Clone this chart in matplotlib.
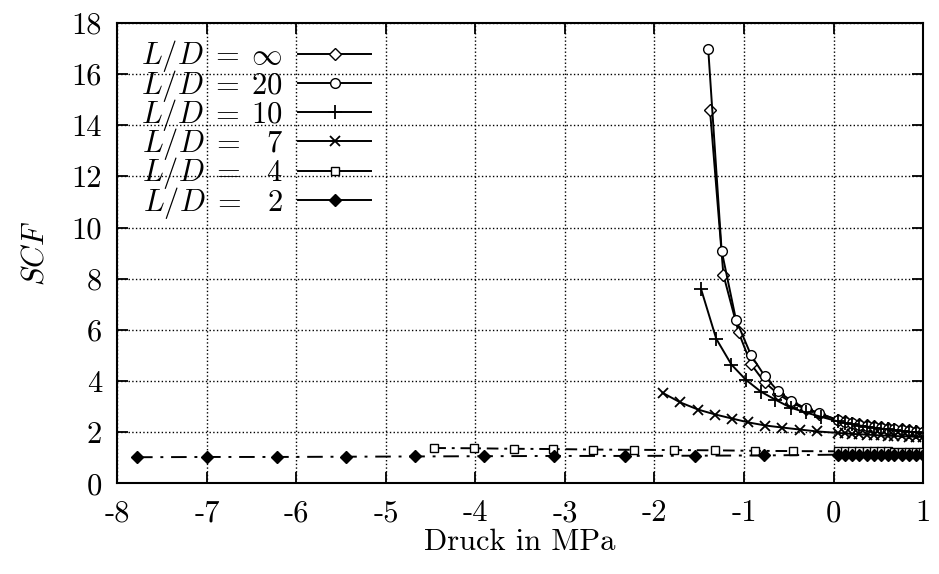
import matplotlib
matplotlib.use("Agg")
import matplotlib.pyplot as plt
from matplotlib.lines import Line2D

plt.rcParams['mathtext.fontset'] = 'cm'
plt.rcParams['font.family'] = ['cmr10', 'DejaVu Serif']
plt.rcParams['axes.unicode_minus'] = False
plt.rcParams['axes.formatter.use_mathtext'] = True

# ---- data ----
x_dense = [0.05, 0.13, 0.21, 0.29, 0.37, 0.45, 0.53, 0.61, 0.68, 0.76, 0.84, 0.92, 1.0]

x_inf = [-1.38, -1.23, -1.06, -0.92, -0.77, -0.62, -0.47, -0.31, -0.16] + x_dense
y_inf = [14.6, 8.15, 5.9, 4.65, 3.95, 3.5, 3.15, 2.9, 2.72,
         2.48, 2.42, 2.37, 2.32, 2.28, 2.24, 2.2, 2.17, 2.14, 2.11, 2.08, 2.05, 2.02]

x_20 = [-1.40, -1.25, -1.09, -0.92, -0.77, -0.62, -0.47, -0.31, -0.16] + x_dense
y_20 = [17.0, 9.1, 6.4, 5.0, 4.2, 3.6, 3.22, 2.93, 2.75,
        2.46, 2.4, 2.34, 2.29, 2.25, 2.21, 2.17, 2.14, 2.11, 2.08, 2.05, 2.02, 1.99]

x_10 = [-1.48, -1.31, -1.14, -0.98, -0.81, -0.65, -0.48, -0.31, -0.14] + x_dense
y_10 = [7.6, 5.65, 4.64, 4.05, 3.58, 3.27, 2.96, 2.77, 2.6,
        2.42, 2.36, 2.31, 2.26, 2.22, 2.18, 2.14, 2.11, 2.08, 2.05, 2.02, 1.99, 1.96]

x_7 = [-1.91, -1.71, -1.51, -1.32, -1.13, -0.95, -0.76, -0.57, -0.37, -0.19] + x_dense
y_7 = [3.54, 3.16, 2.88, 2.69, 2.53, 2.38, 2.26, 2.18, 2.1, 2.03,
       1.97, 1.95, 1.93, 1.92, 1.9, 1.89, 1.87, 1.86, 1.85, 1.84, 1.83, 1.82, 1.81]

x_4 = [-4.46, -4.02, -3.57, -3.13, -2.69, -2.23, -1.78, -1.32, -0.88, -0.45] + x_dense
y_4 = [1.38, 1.37, 1.35, 1.34, 1.32, 1.31, 1.3, 1.29, 1.27, 1.26,
       1.25, 1.25, 1.25, 1.25, 1.25, 1.25, 1.25, 1.25, 1.24, 1.24, 1.24, 1.24, 1.24]

x_2 = [-7.78, -7.0, -6.22, -5.45, -4.68, -3.9, -3.12, -2.33, -1.55, -0.78] + x_dense
y_2 = [1.02, 1.03, 1.03, 1.04, 1.05, 1.06, 1.07, 1.07, 1.08, 1.09,
       1.12, 1.12, 1.12, 1.12, 1.12, 1.12, 1.12, 1.12, 1.12, 1.12, 1.12, 1.12, 1.12]

labels = [r'$L/D\;=\;\infty$', r'$L/D\;=\;20$', r'$L/D\;=\;10$',
          r'$L/D\;=\;\enspace 7$', r'$L/D\;=\;\enspace 4$', r'$L/D\;=\;\enspace 2$']

xticks = [-8, -7, -6, -5, -4, -3, -2, -1, 0, 1]
xticklabels = ['-8', '-7', '-6', '-5', '-4', '-3', '-2', '-1', '0', '1']
yticks = [0, 2, 4, 6, 8, 10, 12, 14, 16, 18]
yticklabels = ['0', '2', '4', '6', '8', '10', '12', '14', '16', '18']

# ---- plot ----
FS = 22
fig = plt.figure(figsize=(9.39, 5.74), dpi=100)
ax = fig.add_axes([0.125, 0.158, 0.858, 0.802])

lw = 1.4
styles = [
    dict(marker='D', ms=6, mfc='white', mec='black', mew=1.0, ls='-'),
    dict(marker='o', ms=7, mfc='white', mec='black', mew=1.0, ls='-'),
    dict(marker='+', ms=10, mec='black', mew=1.3, ls='-'),
    dict(marker='x', ms=7, mec='black', mew=1.3, ls='-'),
    dict(marker='s', ms=6, mfc='white', mec='black', mew=1.0, ls=(0, (6, 3, 1.5, 3))),
    dict(marker='D', ms=6, mfc='black', mec='black', mew=1.0, ls=(0, (8, 4, 1.5, 4))),
]
series = [(x_inf, y_inf), (x_20, y_20), (x_10, y_10), (x_7, y_7), (x_4, y_4), (x_2, y_2)]
for (xs, ys), st in zip(series, styles):
    ax.plot(xs, ys, color='black', lw=lw, zorder=3, **st)

ax.set_xlim(-8, 1)
ax.set_ylim(0, 18)
ax.set_xticks(xticks)
ax.set_xticklabels(xticklabels)
ax.set_yticks(yticks)
ax.set_yticklabels(yticklabels)
ax.grid(True, color='black', ls=':', lw=1.0)
ax.set_axisbelow(True)
ax.tick_params(direction='in', length=8, width=1.3, top=True, right=True,
               labelsize=FS)
ax.tick_params(axis='x', pad=12)
ax.tick_params(axis='y', pad=11)
for s in ax.spines.values():
    s.set_linewidth(1.5)

ax.set_xlabel('Druck in MPa', fontsize=FS, labelpad=1)
ax.set_ylabel(r'$SCF$', fontsize=FS, labelpad=16)

handles = [Line2D([], [], color='black', lw=lw, **{k: v for k, v in st.items() if k != 'ls'})
           for st in styles]
ax.legend(handles, labels, loc='upper left', bbox_to_anchor=(0.01, 1.0),
          frameon=False, markerfirst=False,
          fontsize=FS, handlelength=2.4, handletextpad=0.5, labelspacing=-0.22,
          borderaxespad=0.3, borderpad=0.2)

fig.savefig('out.png', dpi=100, facecolor='white')
